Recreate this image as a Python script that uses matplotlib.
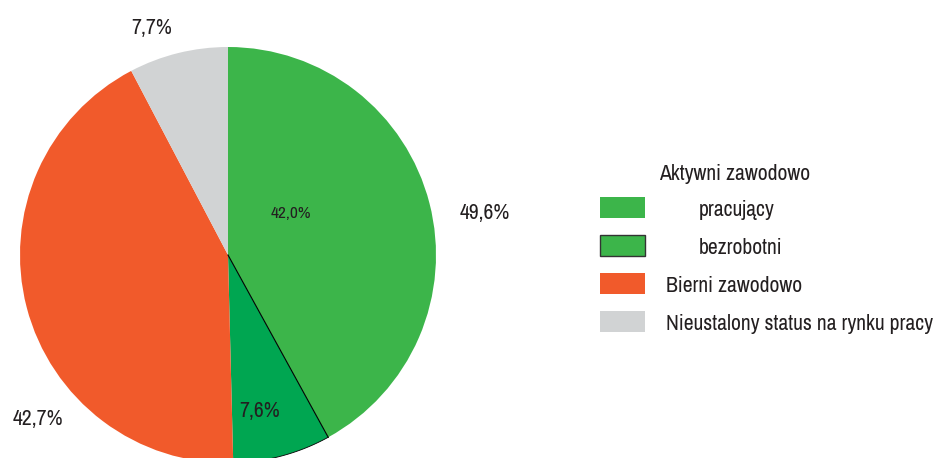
import matplotlib

matplotlib.use("Agg")

import matplotlib.pyplot as plt
import numpy as np
from matplotlib import font_manager
from matplotlib.patches import Rectangle

# shares of the population, clockwise from 12 o'clock
categories = ["pracujący", "bezrobotni", "Bierni zawodowo", "Nieustalony status na rynku pracy"]
shares = [42.0, 7.6, 42.7, 7.7]
colours = ["#3cb54a", "#00a651", "#f15a2b", "#d1d3d4"]
active_total = "49,6%"
pct_labels = ["42,0%", "7,6%", "42,7%", "7,7%"]

W, H = 940, 458
CX, CY, R = 228, 255, 208  # pie centre and radius in pixels
TXT = "#231f20"

# the original uses a narrow grotesque; take a narrow face if one is installed
names = sorted({f.name for f in font_manager.fontManager.ttflist})
narrow = [n for n in names if "Narrow" in n or "Condensed" in n]
family = narrow[0] if narrow else "Liberation Sans"
plt.rcParams["font.family"] = [family, "DejaVu Sans"]

fig = plt.figure(figsize=(W / 100, H / 100), dpi=100)


def fx(px):
    return px / W


def fy(py):
    return 1 - py / H


# size the text so the longest legend entry spans what it does in the original
probe = fig.text(0, 0, categories[3], fontsize=13)
renderer = fig.canvas.get_renderer()
size = 13 * 270 / probe.get_window_extent(renderer).width
size = min(size, 17)
probe.remove()

ax = fig.add_axes([fx(CX - R), fy(CY + R), 2 * R / W, 2 * R / H])
wedges, _ = ax.pie(shares, colors=colours, startangle=90, counterclock=False,
                   radius=1, wedgeprops={"linewidth": 0})
ax.set_aspect("auto")
ax.set_xlim(-1, 1)
ax.set_ylim(-1, 1)
ax.axis("off")
for w in wedges:
    w.set_clip_on(False)

# thin black outline on the unemployed slice (green boundary + outer arc)
start = 90 - 360 * shares[0] / sum(shares)
end = start - 360 * shares[1] / sum(shares)
t = np.radians(start)
ax.plot([0, np.cos(t)], [0, np.sin(t)], color="black", lw=0.8, clip_on=False)
arc = np.radians(np.linspace(start, end, 60))
ax.plot(np.cos(arc), np.sin(arc), color="black", lw=0.6, clip_on=False)


def label(px, py, s, fs=size):
    ax.text((px - CX) / R, (CY - py) / R, s, ha="center", va="center",
            fontsize=fs, color=TXT, clip_on=False)


label(485, 213, active_total)
label(291, 214, pct_labels[0], fs=size * 0.8)
label(260, 411, pct_labels[1])
label(38, 419, pct_labels[2])
label(152, 28, pct_labels[3])

# legend, laid out by hand like the original
fig.text(fx(659), fy(174), "Aktywni zawodowo", fontsize=size, color=TXT, va="center")
legend_rows = [
    (197, colours[0], None, 699, categories[0]),
    (235, colours[0], "#333333", 699, categories[1]),
    (273, colours[2], None, 666, categories[2]),
    (311, colours[3], None, 666, categories[3]),
]
for top, fc, ec, tx, name in legend_rows:
    fig.add_artist(Rectangle((fx(600), fy(top + 21)), 45 / W, 21 / H,
                             transform=fig.transFigure, facecolor=fc,
                             edgecolor=ec if ec else "none", lw=1.0))
    fig.text(fx(tx), fy(top + 13), name, fontsize=size, color=TXT, va="center")

fig.savefig("out.png", dpi=100)
